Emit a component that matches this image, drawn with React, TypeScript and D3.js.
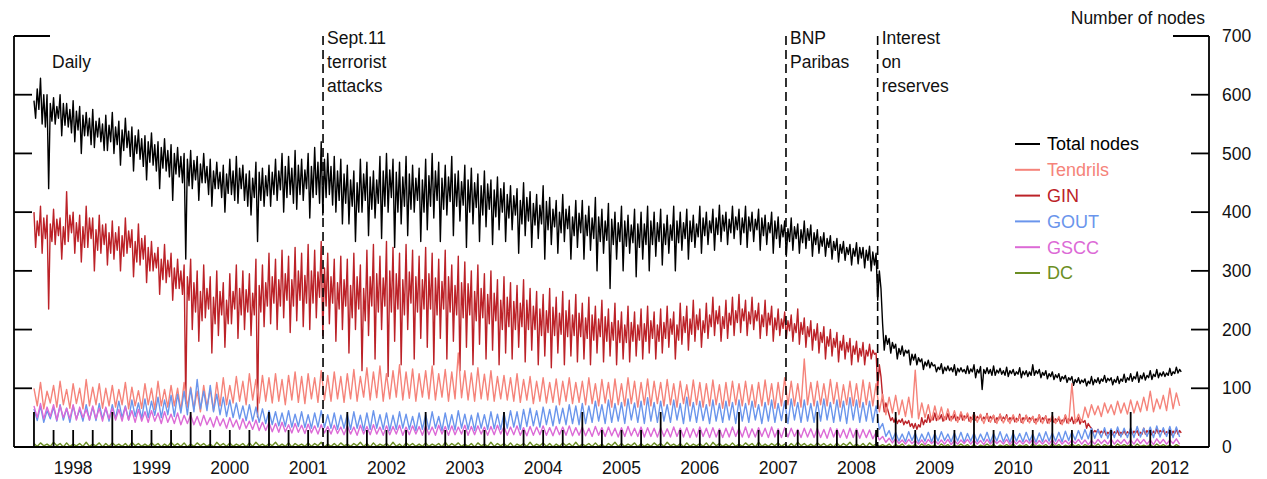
import * as d3 from 'd3'

// daily series, read off the picture as readings per month starting Jan 1998
// totalNodes and gin: 4 readings a month (alternating high / low), the rest: 2 a month
const START = 1998.0

const totalNodes = [
  590,560,610,575, 628,550,600,545, 600,440,585,555, 595,550,580,560, 600,530,585,548, 585,545,575,535, 590,520,572,540, 580,500,565,530, 570,530,560,515, 575,510,555,528, 560,520,550,505, 565,505,548,520,
  570,500,545,515, 555,480,540,505, 560,510,538,495, 545,470,530,500, 540,490,525,478, 530,455,520,485, 535,480,515,470, 520,440,510,475, 525,470,505,460, 515,420,500,465, 510,460,495,450, 500,320,490,445,
  505,440,488,455, 495,420,482,450, 500,450,478,430, 490,410,470,440, 485,440,468,425, 480,400,465,432, 490,430,470,420, 495,415,475,440, 480,420,465,410, 470,395,458,425, 485,350,468,420, 475,410,462,428,
  480,410,468,430, 490,420,470,438, 500,400,478,425, 495,430,475,415, 505,405,480,430, 490,420,472,440, 500,390,478,425, 510,430,485,415, 520,395,490,425, 500,430,478,412, 495,400,470,420, 490,380,465,415,
  480,380,455,410, 470,350,450,400, 490,400,465,420, 485,360,460,405, 470,390,455,415, 495,355,470,410, 500,400,472,425, 490,340,468,400, 485,380,460,410, 495,360,465,405, 480,400,458,420, 475,350,455,400,
  490,370,462,410, 500,390,470,420, 485,350,458,405, 480,395,460,418, 495,360,465,410, 470,385,452,412, 480,340,455,400, 475,380,450,408, 465,350,445,395, 470,375,448,405, 455,345,438,392, 460,370,440,400,
  450,350,430,390, 445,370,428,395, 440,330,420,380, 450,360,425,385, 435,340,415,378, 430,355,412,380, 445,320,418,370, 425,345,405,375, 420,330,400,365, 430,350,405,372, 410,320,392,360, 420,340,398,365,
  420,320,395,360, 410,335,390,355, 425,300,392,350, 405,330,385,352, 415,270,388,345, 400,320,382,350, 410,300,385,342, 395,330,378,348, 405,290,380,340, 400,320,380,345, 410,300,385,345, 400,325,382,350,
  405,310,380,345, 395,330,378,352, 410,300,385,348, 400,335,382,355, 405,320,385,350, 395,340,380,358, 410,330,390,360, 400,345,385,365, 405,335,390,362, 412,350,395,368, 400,345,388,365, 410,355,392,370,
  405,345,390,365, 410,340,392,368, 400,350,388,370, 405,335,390,360, 395,345,382,365, 400,330,385,355, 392,340,378,358, 385,325,372,350, 390,335,375,355, 380,330,370,348, 385,338,372,352, 378,325,365,345,
  370,330,358,342, 365,325,355,340, 360,320,350,335, 355,315,345,330, 350,318,340,328, 345,310,338,325, 348,312,340,322, 340,305,335,318, 342,300,332,310, 330,250,300,270, 210,165,190,175, 185,160,178,168,
  175,150,168,158, 172,155,165,160, 165,140,158,148, 158,140,152,145, 150,132,145,138, 148,135,144,138, 140,128,136,132, 142,125,136,130, 138,130,135,128, 140,122,134,128, 135,128,132,125, 138,125,133,128,
  140,118,132,126, 137,98,132,125, 135,125,132,122, 138,122,131,126, 134,124,130,122, 136,120,130,125, 132,122,128,124, 135,118,129,123, 130,120,128,122, 140,122,130,125, 132,118,127,122, 130,116,125,120,
  128,115,123,118, 125,112,120,116, 122,110,118,114, 120,105,115,110, 118,108,114,110, 116,104,112,108, 120,106,115,110, 118,108,116,112, 122,110,117,113, 118,106,115,110, 120,108,116,112, 124,110,118,114,
  125,112,120,116, 128,110,122,116, 126,114,122,118, 130,115,124,120, 132,118,126,121, 128,120,126,122, 134,122,128,125, 136,126,132,128,
]

const gin = [
  400,340,385,360, 410,330,390,355, 395,235,380,350, 405,345,388,360, 390,320,375,345, 435,350,395,365, 400,330,382,350, 395,315,375,340, 410,340,390,355, 390,300,370,335, 395,330,378,345, 380,310,365,330,
  385,320,365,335, 375,300,360,325, 390,330,368,340, 370,290,350,315, 380,310,355,320, 360,280,340,300, 350,300,330,305, 340,260,320,285, 345,280,318,290, 330,250,305,270, 320,270,300,260, 310,75,290,250,
  320,200,280,230, 300,180,265,215, 310,220,270,235, 290,160,255,210, 300,190,265,225, 280,170,250,210, 295,210,265,235, 310,185,270,225, 300,200,268,230, 295,190,262,225, 320,51,275,230, 310,205,280,240,
  330,210,290,245, 320,200,285,240, 335,220,295,250, 325,195,285,240, 340,215,300,250, 330,205,292,245, 345,200,300,245, 335,220,298,255, 350,190,305,240, 330,210,290,245, 320,180,280,235, 325,200,285,240,
  320,160,275,220, 330,200,290,235, 310,130,270,215, 335,190,290,240, 345,150,295,230, 325,200,288,240, 350,120,300,230, 340,180,295,235, 330,140,285,225, 345,200,298,245, 335,150,290,230, 325,185,285,235,
  340,170,295,235, 330,140,288,225, 320,185,282,235, 335,150,290,230, 310,180,275,225, 325,130,280,220, 315,170,278,225, 300,140,265,215, 310,175,270,220, 295,150,260,210, 300,165,262,215, 285,140,250,200,
  290,160,255,205, 280,150,248,200, 275,170,245,205, 285,145,250,200, 270,165,240,200, 265,140,235,190, 260,155,232,195, 270,135,238,190, 255,160,228,192, 265,140,232,188, 250,155,225,190, 260,145,228,188,
  245,150,220,185, 255,140,225,182, 240,160,218,188, 250,145,222,180, 235,155,212,182, 245,140,215,178, 230,150,208,178, 240,145,212,180, 230,155,208,182, 235,150,210,180, 240,160,215,185, 230,150,208,180,
  235,160,212,185, 240,170,218,192, 230,150,208,182, 245,175,222,195, 240,165,218,192, 250,180,225,200, 235,170,215,195, 245,185,225,205, 255,190,232,210, 240,180,222,202, 250,185,228,208, 255,190,232,212,
  260,195,235,215, 250,190,230,210, 255,200,232,215, 245,185,225,205, 250,190,228,208, 240,180,220,200, 235,190,218,202, 230,185,215,198, 225,180,210,195, 235,175,212,192, 220,170,205,188, 215,165,200,182,
  210,160,195,178, 205,150,188,172, 200,155,185,170, 195,145,180,165, 190,150,178,162, 185,140,172,158, 180,145,168,155, 178,140,165,155, 175,150,165,158, 160,100,140,120, 85,60,75,65, 55,45,50,42,
  50,40,46,42, 48,38,44,40, 45,35,40,32, 40,30,38,34, 50,38,46,42, 55,42,50,46, 58,45,52,48, 55,44,51,47, 57,46,52,48, 55,45,51,47, 58,46,53,49, 56,44,51,47,
  58,46,52,48, 55,45,51,47, 57,44,52,48, 54,42,50,46, 56,45,51,47, 55,44,50,46, 53,43,49,45, 56,42,50,46, 54,44,50,46, 52,42,48,44, 55,43,50,46, 53,41,48,44,
  52,42,48,44, 50,40,46,43, 54,41,48,44, 51,40,47,43, 50,39,46,42, 45,32,40,35, 32,24,28,25, 30,22,27,24, 28,20,25,22, 30,21,26,23, 28,20,25,22, 29,21,26,23,
  30,22,27,24, 28,20,25,22, 32,22,28,24, 30,21,27,23, 31,23,28,25, 29,22,26,24, 30,21,27,23, 31,22,28,24,
]

const tendrils = [
  100,70, 110,65, 95,75, 105,68, 112,72, 98,66, 108,74, 100,65, 115,70, 102,72, 108,66, 100,70,
  105,68, 98,72, 110,65, 102,70, 96,66, 108,72, 100,64, 112,70, 98,68, 105,70, 100,62, 110,68,
  102,65, 95,60, 105,68, 98,62, 110,70, 118,72, 105,75, 120,78, 112,72, 125,80, 115,75, 122,78,
  118,75, 125,78, 115,72, 122,80, 128,76, 120,74, 125,82, 118,76, 130,80, 122,78, 128,82, 120,76,
  125,82, 132,78, 120,85, 135,80, 128,84, 138,78, 125,82, 130,85, 140,80, 128,83, 133,78, 125,85,
  130,82, 138,80, 125,85, 132,78, 128,82, 160,84, 130,80, 126,78, 135,82, 124,80, 130,78, 120,82,
  122,80, 118,78, 125,76, 115,80, 120,74, 112,78, 118,75, 110,76, 116,72, 112,78, 118,74, 110,76,
  112,72, 118,74, 108,70, 115,75, 110,68, 116,72, 108,70, 118,74, 112,68, 110,72, 116,70, 112,74,
  110,70, 115,72, 108,68, 112,74, 106,70, 114,72, 110,68, 108,70, 114,72, 106,66, 110,70, 112,72,
  108,70, 112,72, 106,68, 110,70, 114,72, 108,66, 110,70, 118,72, 112,70, 108,68, 150,72, 110,70,
  112,72, 108,70, 115,74, 110,68, 106,72, 112,70, 108,68, 114,72, 110,70, 108,60, 90,55, 85,58,
  88,55, 80,52, 85,50, 131,48, 75,50, 72,45, 70,46, 68,45, 65,44, 62,42, 60,45, 58,42,
  58,42, 56,40, 55,42, 54,40, 56,41, 52,40, 55,42, 53,40, 54,41, 52,39, 55,40, 52,40,
  54,40, 52,38, 55,40, 108,40, 56,42, 68,50, 72,55, 70,52, 75,58, 72,55, 78,58, 75,56,
  80,58, 78,60, 85,62, 95,60, 82,65, 88,62, 100,65, 92,70,
]

const gout = [
  65,45, 70,42, 62,48, 68,44, 72,46, 66,42, 70,48, 64,44, 72,46, 68,45, 74,48, 66,44,
  72,48, 78,50, 70,46, 80,52, 75,48, 82,50, 78,54, 85,50, 80,55, 88,52, 90,58, 95,55,
  100,60, 115,65, 95,62, 105,60, 90,55, 85,52, 80,50, 75,48, 70,45, 72,44, 68,42, 65,40,
  62,38, 60,36, 58,35, 62,34, 56,35, 60,33, 55,32, 58,34, 62,33, 55,32, 58,30, 54,32,
  56,30, 60,32, 54,28, 58,30, 62,32, 55,30, 58,28, 54,30, 60,32, 56,30, 52,28, 58,30,
  55,30, 60,32, 52,28, 58,30, 55,29, 62,32, 56,30, 54,28, 58,32, 55,30, 60,31, 56,30,
  58,32, 62,34, 60,30, 64,35, 66,36, 62,34, 68,38, 64,36, 70,40, 66,38, 72,40, 70,38,
  74,40, 70,42, 78,44, 72,40, 80,42, 74,44, 76,40, 82,46, 75,42, 78,40, 84,44, 76,42,
  78,44, 72,42, 80,46, 74,40, 85,44, 76,42, 78,45, 72,40, 80,44, 74,42, 78,46, 76,40,
  80,44, 74,42, 78,46, 72,40, 76,44, 80,42, 74,45, 78,40, 82,46, 76,42, 80,44, 74,42,
  78,44, 82,46, 76,42, 80,44, 78,40, 84,46, 80,42, 76,44, 78,42, 70,30, 40,18, 28,12,
  25,10, 22,9, 26,11, 24,8, 22,10, 25,9, 23,10, 26,11, 22,9, 24,10, 25,8, 23,10,
  24,9, 22,10, 25,8, 23,10, 26,9, 22,8, 24,10, 23,9, 25,10, 22,8, 24,9, 26,10,
  24,10, 25,9, 27,11, 26,12, 28,13, 30,14, 32,15, 30,16, 33,15, 31,16, 34,17, 32,16,
  33,16, 35,17, 32,18, 34,16, 36,17, 33,18, 35,16, 34,17,
]

const gscc = [
  70,50, 74,48, 68,52, 72,46, 70,50, 66,48, 72,46, 68,50, 64,46, 70,48, 66,44, 68,48,
  66,46, 64,44, 68,46, 62,42, 64,44, 60,42, 62,44, 58,40, 60,42, 56,40, 58,38, 54,40,
  55,38, 52,36, 54,38, 50,34, 52,36, 48,32, 50,34, 46,30, 48,32, 44,30, 46,28, 42,28,
  42,26, 40,25, 42,26, 38,24, 40,25, 37,23, 39,24, 36,22, 38,24, 35,22, 37,23, 34,21,
  36,22, 34,20, 37,22, 35,21, 38,22, 34,20, 36,21, 35,22, 37,20, 34,21, 36,22, 35,20,
  36,21, 34,20, 37,22, 35,20, 36,21, 34,22, 37,20, 35,21, 36,22, 34,20, 35,21, 37,22,
  35,20, 34,21, 36,20, 33,19, 35,20, 34,21, 36,20, 33,19, 35,21, 34,20, 36,19, 33,20,
  34,19, 32,18, 35,20, 33,18, 34,19, 32,17, 33,18, 35,19, 32,18, 34,17, 33,18, 32,17,
  33,18, 31,17, 34,18, 32,17, 33,16, 31,17, 34,18, 32,16, 33,17, 31,16, 32,17, 34,18,
  32,17, 34,16, 31,17, 33,18, 32,16, 34,17, 31,16, 33,17, 32,18, 30,16, 32,17, 31,16,
  32,16, 30,15, 33,17, 31,16, 30,15, 32,16, 31,15, 30,16, 29,14, 25,12, 18,8, 15,7,
  14,6, 12,5, 13,6, 11,5, 12,4, 13,6, 11,5, 12,5, 13,4, 11,5, 12,6, 13,5,
  12,5, 11,4, 13,5, 12,6, 11,5, 13,4, 12,5, 11,5, 12,6, 13,4, 11,5, 12,5,
  12,4, 13,5, 11,5, 12,6, 13,5, 12,4, 11,5, 13,6, 12,5, 14,5, 12,6, 13,5,
  12,5, 14,6, 13,5, 12,4, 14,6, 13,5, 12,6, 14,5,
]

const dc = [
  6,1, 7,2, 5,1, 8,2, 6,0, 7,1, 5,2, 6,1, 8,1, 5,2, 7,0, 6,1,
  7,2, 5,1, 6,0, 8,2, 6,1, 5,1, 7,2, 6,0, 5,1, 8,2, 6,1, 7,0,
  5,1, 7,2, 6,1, 5,0, 8,2, 6,1, 7,1, 5,2, 6,0, 7,1, 8,2, 5,1,
  6,2, 8,1, 5,1, 7,0, 6,2, 5,1, 7,1, 6,2, 8,0, 5,1, 6,1, 7,2,
  5,1, 6,2, 8,1, 6,0, 7,1, 5,2, 6,1, 8,1, 5,0, 7,2, 6,1, 5,1,
  7,1, 5,2, 6,0, 8,1, 6,2, 7,1, 5,1, 6,0, 7,2, 5,1, 8,1, 6,2,
  6,1, 7,0, 5,2, 6,1, 8,1, 5,2, 7,1, 6,0, 5,1, 7,2, 6,1, 8,1,
  5,2, 6,1, 7,1, 5,0, 6,2, 8,1, 6,1, 5,2, 7,0, 6,1, 5,1, 7,2,
  6,1, 8,2, 5,1, 6,0, 7,1, 5,2, 6,1, 7,0, 8,2, 6,1, 5,1, 7,1,
  5,1, 7,2, 6,0, 8,1, 5,1, 6,2, 7,1, 5,0, 6,1, 8,2, 6,1, 5,1,
  7,2, 6,1, 5,0, 7,1, 6,2, 8,1, 5,1, 6,0, 7,2, 5,1, 4,1, 5,0,
  4,1, 5,0, 3,1, 4,0, 5,1, 4,1, 3,0, 5,1, 4,0, 3,1, 5,1, 4,0,
  4,0, 3,1, 5,1, 4,0, 3,1, 4,1, 5,0, 3,1, 4,0, 5,1, 3,1, 4,0,
  5,1, 4,0, 3,1, 5,1, 4,0, 4,1, 3,1, 5,0, 4,1, 3,0, 5,1, 4,1,
  4,0, 5,1, 3,1, 4,0, 5,1, 4,1, 3,0, 4,1,
]

const seriesNames = ['Total nodes', 'Tendrils', 'GIN', 'GOUT', 'GSCC', 'DC']
const seriesColors = ['#000000', '#F5837A', '#BC2228', '#6A95EC', '#DC6AD6', '#6B8E23']
const seriesData = [totalNodes, tendrils, gin, gout, gscc, dc]
const perMonth = [4, 2, 4, 2, 2, 2]
const strokeW = [1.4, 1.4, 1.4, 1.4, 1.4, 1.4]
// draw order: big ones first, small ones on top
const drawOrder = [0, 2, 1, 3, 4, 5]

const yTicks = [0, 100, 200, 300, 400, 500, 600, 700]
const yearLabels = [1998, 1999, 2000, 2001, 2002, 2003, 2004, 2005, 2006, 2007, 2008, 2009, 2010, 2011, 2012]

const events = [
  { date: 2001.69, lines: ['Sept.11', 'terrorist', 'attacks'] },
  { date: 2007.6, lines: ['BNP', 'Paribas'] },
  { date: 2008.77, lines: ['Interest', 'on', 'reserves'] },
]

const W = 1267
const H = 479
const FONT = '"Liberation Sans", Arial, sans-serif'

export default function App() {
  const x = d3.scaleLinear().domain([1997.745, 2013.0]).range([14, 1209])
  const y = d3.scaleLinear().domain([0, 700]).range([447, 36])
  const x0 = x.range()[0]
  const x1 = x.range()[1]
  const yb = y(0)
  const yt = y(700)

  const makeLine = (pm: number) => d3.line<number>()
    .x((_, i) => x(START + i / (12 * pm)))
    .y(d => y(d))

  const quarterTicks = d3.range(0, 59).map(q => 1998 + q / 4)

  return (
    <div style={{ position: 'fixed', left: 0, top: 0 }}>
      <svg width={W} height={H} style={{ display: 'block', background: '#fff' }} fontFamily={FONT}>
        {/* data */}
        {drawOrder.map(k => (
          <path key={seriesNames[k]} d={makeLine(perMonth[k])(seriesData[k]) || ''} fill="none"
            stroke={seriesColors[k]} strokeWidth={strokeW[k]} strokeLinejoin="round" />
        ))}

        {/* event lines */}
        {events.map(ev => (
          <g key={ev.lines[0]}>
            <line x1={x(ev.date)} x2={x(ev.date)} y1={yt} y2={yb} stroke="#000"
              strokeWidth={1.6} strokeDasharray="9,5" />
            {ev.lines.map((t, i) => (
              <text key={t} x={x(ev.date) + 4} y={44 + i * 24} fontSize={17.5} fill="#111">{t}</text>
            ))}
          </g>
        ))}

        {/* frame */}
        <line x1={x0} x2={x0} y1={yt} y2={yb} stroke="#000" strokeWidth={1.8} />
        <line x1={x1} x2={x1} y1={yt} y2={yb} stroke="#000" strokeWidth={1.8} />
        <line x1={x0} x2={x1} y1={yb} y2={yb} stroke="#000" strokeWidth={1.8} />

        {/* y ticks both sides */}
        {yTicks.map(v => {
          const len = v === 700 ? 36 : 18
          return (
            <g key={v}>
              <line x1={x0} x2={x0 + len} y1={y(v)} y2={y(v)} stroke="#000" strokeWidth={1.8} />
              <line x1={x1 - len} x2={x1} y1={y(v)} y2={y(v)} stroke="#000" strokeWidth={1.8} />
              <text x={x1 + 13} y={y(v)} dy="0.35em" fontSize={17.5} fill="#111">{v}</text>
            </g>
          )
        })}

        {/* x ticks */}
        {quarterTicks.map(t => {
          const major = Math.abs(t - Math.round(t)) < 1e-6
          return (
            <line key={t} x1={x(t)} x2={x(t)} y1={yb} y2={yb - (major ? 35 : 17)}
              stroke="#000" strokeWidth={1.8} />
          )
        })}
        {yearLabels.map(yr => (
          <text key={yr} x={x(yr + 0.5)} y={474} textAnchor="middle" fontSize={17.5} fill="#111">{yr}</text>
        ))}

        <text x={1205} y={24} textAnchor="end" fontSize={17.5} fill="#111">Number of nodes</text>
        <text x={52} y={68} fontSize={17.5} fill="#111">Daily</text>

        {/* legend */}
        {seriesNames.map((n, i) => {
          const ly = 144 + i * 25.8
          return (
            <g key={n}>
              <line x1={1015} x2={1040} y1={ly} y2={ly} stroke={seriesColors[i]} strokeWidth={2} />
              <text x={1047} y={ly} dy="0.35em" fontSize={18} fill={seriesColors[i]}>{n}</text>
            </g>
          )
        })}
      </svg>
    </div>
  )
}
